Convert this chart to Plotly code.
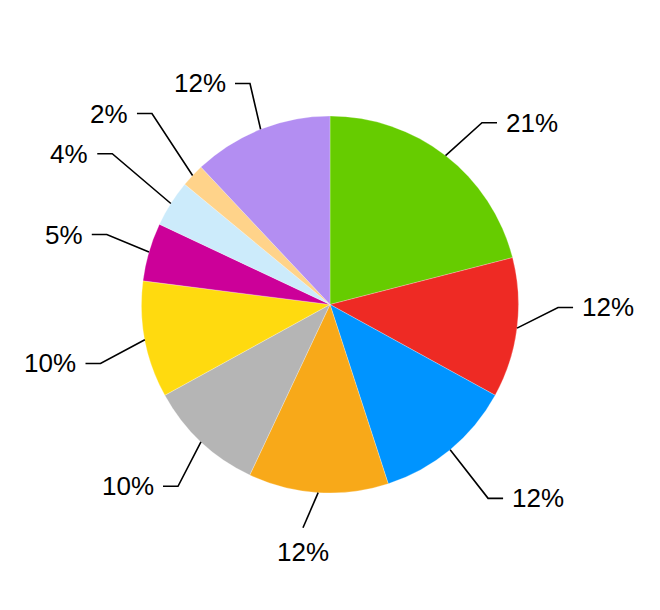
import math
import plotly.graph_objects as go

# ---- data ----
categories = ["A", "B", "C", "D", "E", "F", "G", "H", "I", "J"]
values = [21, 12, 12, 12, 10, 10, 5, 4, 2, 12]
colors = ["#66CC00", "#EE2A24", "#0094FF", "#F8A919", "#B5B5B5",
          "#FFDA0F", "#CC0099", "#CCEBFB", "#FFD38A", "#B38EF2"]

# ---- layout params ----
W, H = 660, 610
OFF = 8  # page body margin compensation
CX, CY, R = 330 - OFF, 304.5 - OFF, 188.5
# leader-line elbow adjustments (layout only)
elbow_rfac = [1.257, 1.21, 1.327, 1.193, 1.257, 1.257, 1.241, 1.405, 1.385, 1.247]
elbow_dang = [2.1, -6.45, 0.4, 3.3, -3.3, -3.6, 1.2, 2.3, 3.8, 1.7]
TAIL = 15
GAP = 7
FONT = dict(family="Arial, Liberation Sans, sans-serif", size=26, color="#000000")

def px(x, y):
    return x / W, 1 - y / H

fig = go.Figure(go.Pie(
    labels=categories, values=values, sort=False, direction="clockwise",
    rotation=0, textinfo="none", hoverinfo="label+percent",
    marker=dict(colors=colors, line=dict(color="rgba(255,255,255,0.5)", width=0.5)),
    domain=dict(x=[(CX - R) / W, (CX + R) / W], y=[(H - CY - R) / H, (H - CY + R) / H]),
    showlegend=False,
))

total = sum(values)
shapes, annotations = [], []
cum = 0
for i, v in enumerate(values):
    mid = (cum + v / 2) / total * 360
    cum += v
    a0 = math.radians(mid)
    sx, sy = CX + R * math.sin(a0), CY - R * math.cos(a0)
    a1 = math.radians(mid + elbow_dang[i])
    r1 = R * elbow_rfac[i]
    ex, ey = CX + r1 * math.sin(a1), CY - r1 * math.cos(a1)
    pct = f"{round(v / total * 100)}%"
    pts = [(sx, sy), (ex, ey)]
    if math.cos(a1) < -0.95:
        tx, ty, xa = ex, ey + 24, "center"
    elif math.sin(a1) > 0:
        pts.append((ex + TAIL, ey))
        tx, ty, xa = ex + TAIL + GAP, ey, "left"
    else:
        pts.append((ex - TAIL, ey))
        tx, ty, xa = ex - TAIL - GAP, ey, "right"
    path = "M " + " L ".join(f"{px(x, y)[0]:.5f},{px(x, y)[1]:.5f}" for x, y in pts)
    shapes.append(dict(type="path", path=path, xref="paper", yref="paper",
                       line=dict(color="#000000", width=1.6)))
    ax, ay = px(tx, ty)
    annotations.append(dict(text=pct, x=ax, y=ay, xref="paper", yref="paper",
                            xanchor=xa, yanchor="middle", showarrow=False, font=FONT))

fig.update_layout(
    width=W, height=H, margin=dict(l=0, r=0, t=0, b=0),
    paper_bgcolor="#FFFFFF", plot_bgcolor="#FFFFFF",
    shapes=shapes, annotations=annotations,
)
fig.write_html("out.html")
